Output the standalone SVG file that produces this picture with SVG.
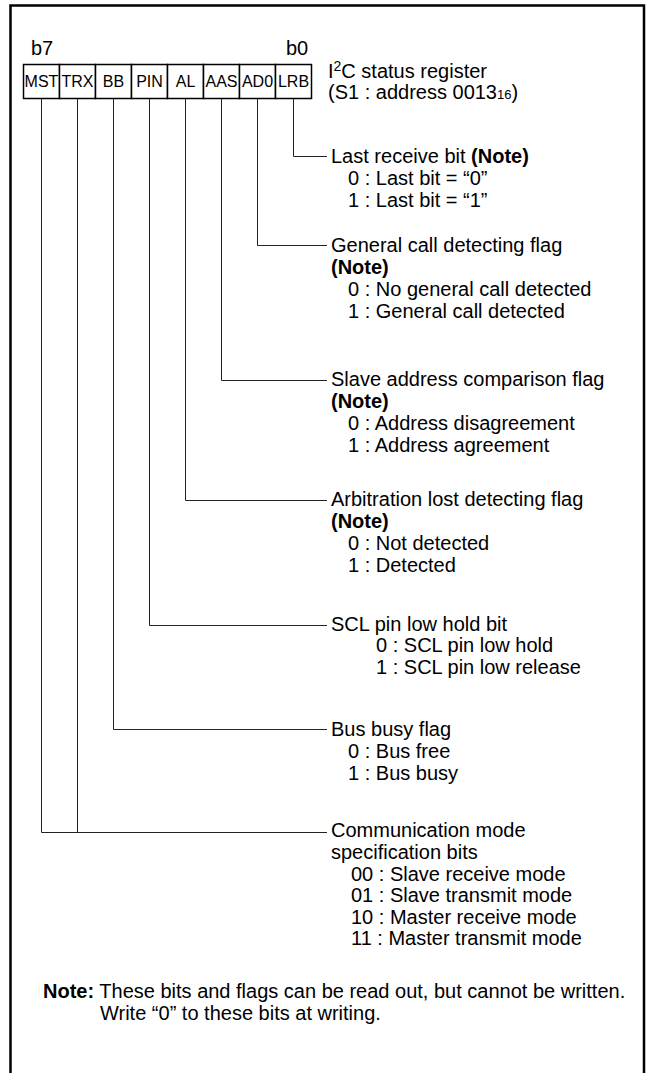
<svg xmlns="http://www.w3.org/2000/svg" width="646" height="1073" viewBox="0 0 646 1073">
<style>
text{font-family:"Liberation Sans",Arial,sans-serif;fill:#000}
.t{font-size:20px}
.b{font-weight:bold}
.lbl{font-size:16px;text-anchor:middle}
.box{fill:#fff;stroke:#000;stroke-width:1.5}
.ln{fill:none;stroke:#222;stroke-width:1}
</style>
<rect width="646" height="1073" fill="#fff"/>
<path d="M10.5,1073 V5.5 H644 V1073" fill="none" stroke="#000" stroke-width="2.5"/>
<g id="header">
<text class="t" x="31" y="55">b7</text>
<text class="t" x="286" y="55">b0</text>
<text class="t" x="328" y="78">I<tspan font-size="14" dy="-7">2</tspan><tspan dy="7">C status register</tspan></text>
<text class="t" x="328" y="99">(S1 : address 0013<tspan font-size="13">16</tspan>)</text>
</g>
<g id="register">
<rect class="box" x="23.5" y="64.5" width="36" height="34"/>
<rect class="box" x="59.5" y="64.5" width="36" height="34"/>
<rect class="box" x="95.5" y="64.5" width="36" height="34"/>
<rect class="box" x="131.5" y="64.5" width="36" height="34"/>
<rect class="box" x="167.5" y="64.5" width="36" height="34"/>
<rect class="box" x="203.5" y="64.5" width="36" height="34"/>
<rect class="box" x="239.5" y="64.5" width="36" height="34"/>
<rect class="box" x="275.5" y="64.5" width="36" height="34"/>
<text class="lbl" x="41.5" y="87">MST</text>
<text class="lbl" x="77.5" y="87">TRX</text>
<text class="lbl" x="113.5" y="87">BB</text>
<text class="lbl" x="149.5" y="87">PIN</text>
<text class="lbl" x="185.5" y="87">AL</text>
<text class="lbl" x="221.5" y="87">AAS</text>
<text class="lbl" x="257.5" y="87">AD0</text>
<text class="lbl" x="293.5" y="87">LRB</text>
</g>
<g id="connectors">
<path class="ln" d="M293.5,99 V156.5 H327"/>
<path class="ln" d="M257.5,99 V245.5 H327"/>
<path class="ln" d="M221.5,99 V380.5 H327"/>
<path class="ln" d="M185.5,99 V500.5 H327"/>
<path class="ln" d="M149.5,99 V625.5 H327"/>
<path class="ln" d="M113.5,99 V729.5 H327"/>
<path class="ln" d="M41.5,99 V832.5 H327"/>
<path class="ln" d="M77.5,99 V832.5"/>
</g>
<g id="lrb">
<text class="t" x="331" y="163">Last receive bit <tspan class="b">(Note)</tspan></text>
<text class="t" x="348" y="185">0 : Last bit = “0”</text>
<text class="t" x="348" y="207">1 : Last bit = “1”</text>
</g>
<g id="ad0">
<text class="t" x="331" y="252">General call detecting flag</text>
<text class="t b" x="331" y="274">(Note)</text>
<text class="t" x="348" y="296">0 : No general call detected</text>
<text class="t" x="348" y="318">1 : General call detected</text>
</g>
<g id="aas">
<text class="t" x="331" y="386">Slave address comparison flag</text>
<text class="t b" x="331" y="408">(Note)</text>
<text class="t" x="348" y="430">0 : Address disagreement</text>
<text class="t" x="348" y="452">1 : Address agreement</text>
</g>
<g id="al">
<text class="t" x="331" y="506">Arbitration lost detecting flag</text>
<text class="t b" x="331" y="528">(Note)</text>
<text class="t" x="348" y="550">0 : Not detected</text>
<text class="t" x="348" y="572">1 : Detected</text>
</g>
<g id="pin">
<text class="t" x="331" y="631">SCL pin low hold bit</text>
<text class="t" x="376" y="652">0 : SCL pin low hold</text>
<text class="t" x="376" y="674">1 : SCL pin low release</text>
</g>
<g id="bb">
<text class="t" x="331" y="736">Bus busy flag</text>
<text class="t" x="348" y="758">0 : Bus free</text>
<text class="t" x="348" y="780">1 : Bus busy</text>
</g>
<g id="mst-trx">
<text class="t" x="331" y="837">Communication mode</text>
<text class="t" x="331" y="859">specification bits</text>
<text class="t" x="351" y="881">00 : Slave receive mode</text>
<text class="t" x="351" y="902">01 : Slave transmit mode</text>
<text class="t" x="351" y="924">10 : Master receive mode</text>
<text class="t" x="351" y="945">11 : Master transmit mode</text>
</g>
<g id="note">
<text class="t" x="43" y="998"><tspan class="b">Note:</tspan> These bits and flags can be read out, but cannot be written.</text>
<text class="t" x="100" y="1020">Write “0” to these bits at writing.</text>
</g>
</svg>
